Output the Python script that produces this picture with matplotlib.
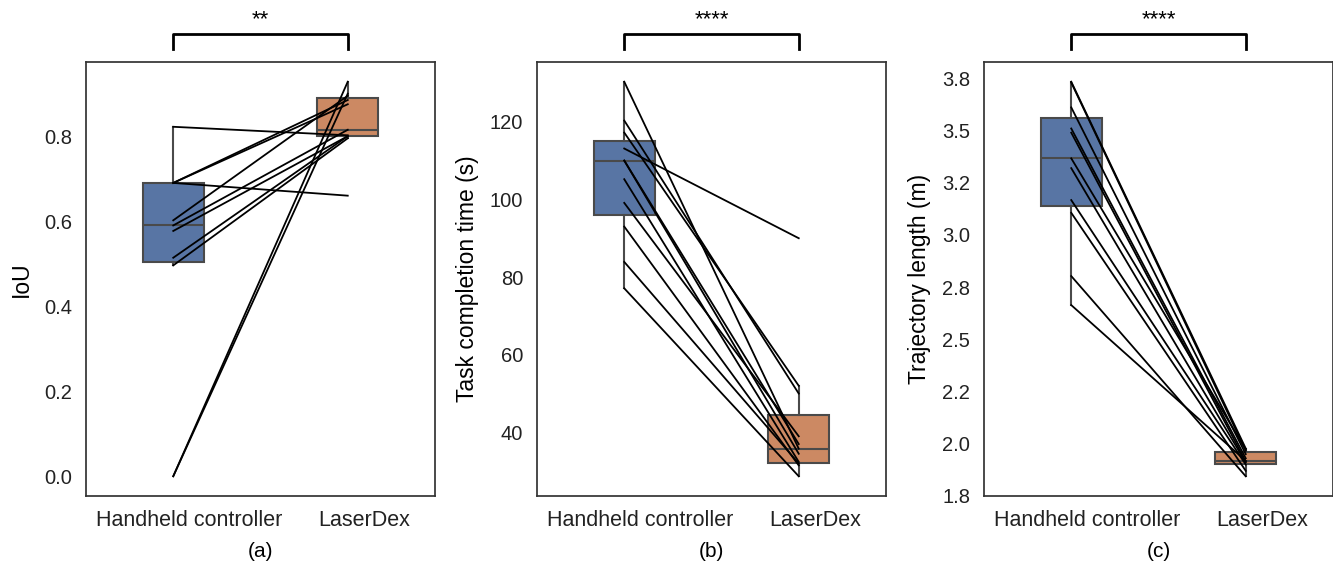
import matplotlib
matplotlib.use("Agg")
import matplotlib.pyplot as plt
import matplotlib.transforms as mtransforms
from matplotlib.ticker import FormatStrFormatter, MultipleLocator

plt.rcParams['font.family'] = ['Liberation Sans', 'DejaVu Sans']

groups = ["Handheld controller", "LaserDex"]

# per-participant values, same order in both conditions (paired)
iou_handheld = [0.822, 0.69, 0.69, 0.69, 0.602, 0.59, 0.577, 0.514, 0.496, 0.0, 0.0]
iou_laserdex = [0.802, 0.66, 0.885, 0.875, 0.895, 0.815, 0.80, 0.80, 0.795, 0.928, 0.90]

time_handheld = [130.3, 120.3, 117.2, 113.1, 110.0, 110.0, 105.2, 99.1, 93.0, 83.9, 77.1]
time_laserdex = [35.8, 50.0, 52.0, 90.0, 37.0, 34.5, 32.4, 39.0, 31.5, 32.0, 28.7]

traj_handheld = [3.734, 3.730, 3.611, 3.51, 3.49, 3.367, 3.32, 3.167, 3.106, 2.803, 2.664]
traj_laserdex = [1.977, 1.966, 1.95, 1.93, 1.915, 1.972, 1.91, 1.90, 1.87, 1.844, 1.918]

ylabels = ["IoU", "Task completion time (s)", "Trajectory length (m)"]
panel_tags = ["(a)", "(b)", "(c)"]
stars = ["**", "****", "****"]

box_colors = ["#5875a4", "#cc8963"]
edge_gray = "#4a4a4a"

fig = plt.figure(figsize=(13.33, 5.67), dpi=100)
W, H = 1333, 567
lefts = [86, 537, 984]

datasets = [(iou_handheld, iou_laserdex),
            (time_handheld, time_laserdex),
            (traj_handheld, traj_laserdex)]

shift = mtransforms.ScaledTranslation(0.16, 0, fig.dpi_scale_trans)

for i, (hh, ld) in enumerate(datasets):
    ax = fig.add_axes([lefts[i] / W, 1 - 496 / H, 349 / W, 434 / H])

    bp = ax.boxplot([hh, ld], positions=[0, 1], widths=0.35, patch_artist=True,
                    showfliers=False, whis=1.5,
                    boxprops=dict(edgecolor=edge_gray, linewidth=1.5),
                    medianprops=dict(color=edge_gray, linewidth=1.5),
                    whiskerprops=dict(color=edge_gray, linewidth=1.5),
                    capprops=dict(linewidth=0))
    for patch, c in zip(bp['boxes'], box_colors):
        patch.set_facecolor(c)

    for a, b in zip(hh, ld):
        ax.plot([0, 1], [a, b], color="black", lw=1.3, zorder=4)

    ax.set_xlim(-0.5, 1.5)
    ax.set_xticks([0, 1])
    ax.set_xticklabels(groups)
    ax.tick_params(axis="both", length=0, pad=10, labelsize=14.5, colors="#222222")
    ax.tick_params(axis="x", labelsize=15.5)
    for lab in ax.get_xticklabels():
        lab.set_transform(lab.get_transform() + shift)
    ax.set_ylabel(ylabels[i], fontsize=16.5, labelpad=8)
    ax.set_xlabel(panel_tags[i], fontsize=15, labelpad=8)
    for s in ax.spines.values():
        s.set_color("#333333")
        s.set_linewidth(1.25)

    if i == 2:
        ax.yaxis.set_major_locator(MultipleLocator(0.25))
        ax.yaxis.set_major_formatter(FormatStrFormatter('%.1f'))

    # significance bracket above the two groups
    trans = mtransforms.blended_transform_factory(ax.transData, ax.transAxes)
    ax.plot([0, 0, 1, 1], [1.029, 1.064, 1.064, 1.029], color="black", lw=2,
            transform=trans, clip_on=False)
    ax.text(0.5, 1.074, stars[i], transform=trans, ha="center", va="bottom",
            fontsize=16)

fig.savefig("out.png", dpi=100)
